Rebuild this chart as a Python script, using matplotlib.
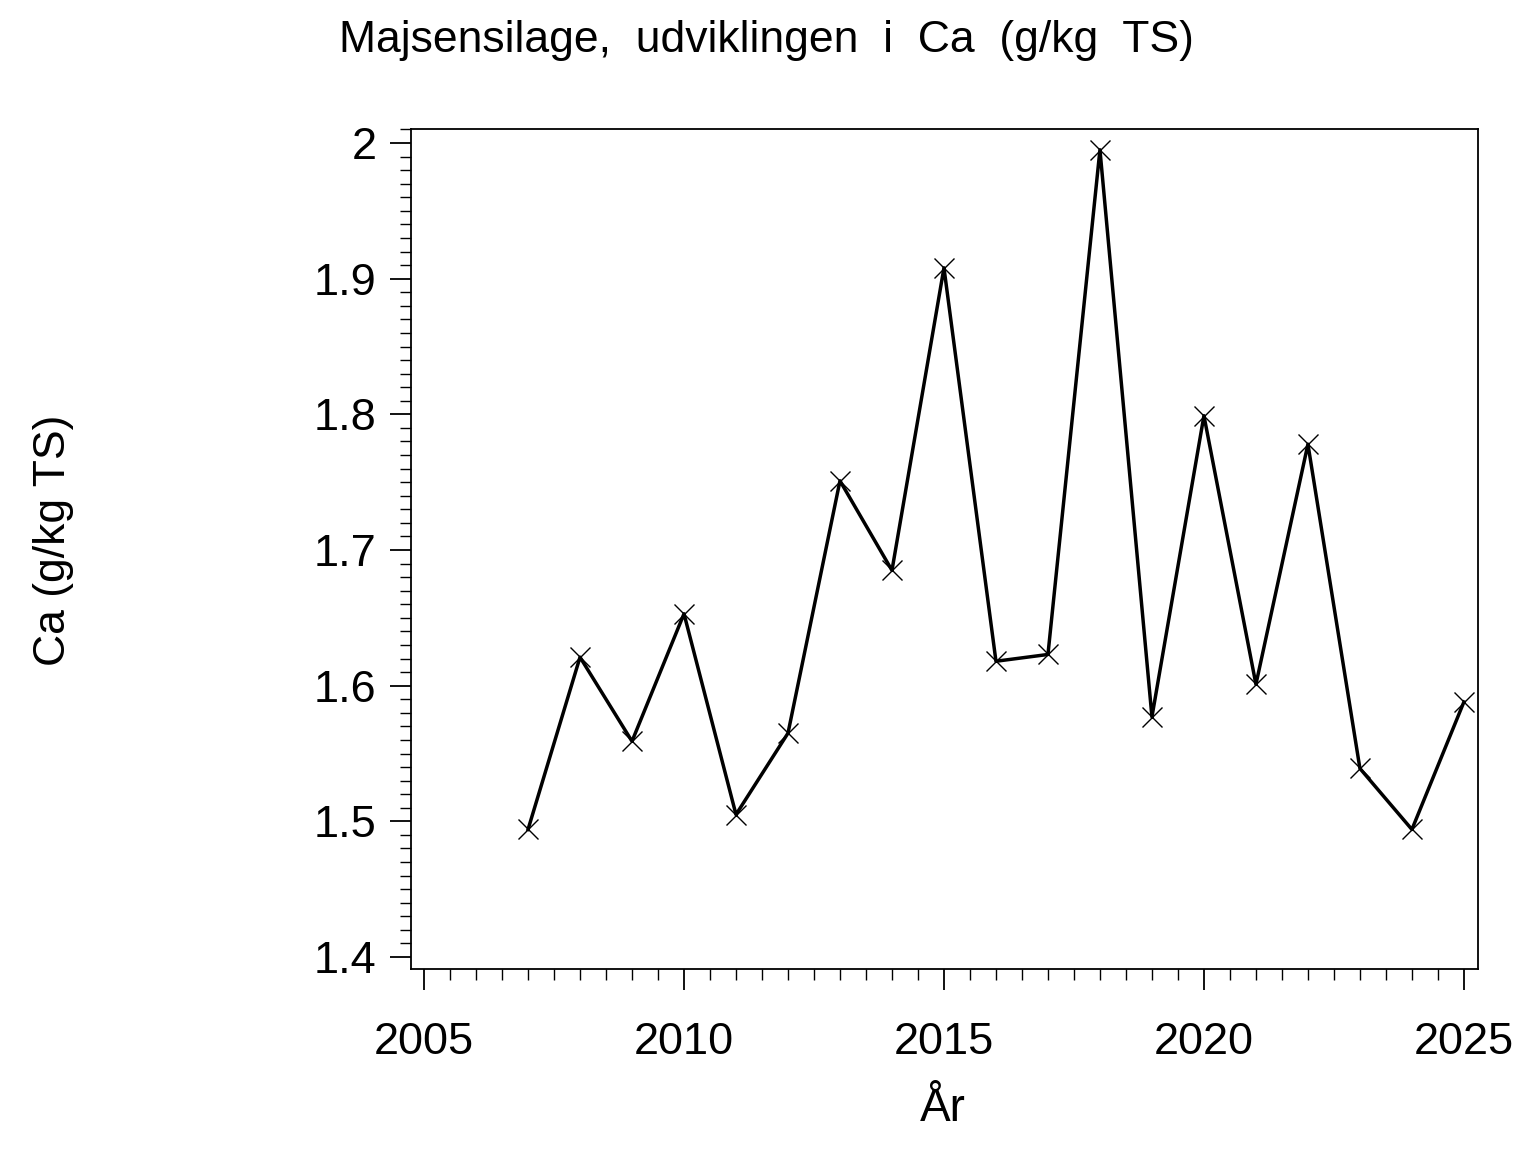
import numpy as np
import matplotlib.pyplot as plt
from matplotlib.ticker import MultipleLocator

plt.rcParams['font.family'] = ['Liberation Sans', 'DejaVu Sans']

years = [2007, 2008, 2009, 2010, 2011, 2012, 2013, 2014, 2015, 2016,
         2017, 2018, 2019, 2020, 2021, 2022, 2023, 2024, 2025]
ca = [1.494, 1.621, 1.559, 1.653, 1.505, 1.565, 1.751, 1.685, 1.908, 1.618,
      1.623, 1.995, 1.577, 1.799, 1.601, 1.778, 1.539, 1.494, 1.588]

fig = plt.figure(figsize=(15.36, 11.52), dpi=100)
ax = fig.add_axes([0.2676, 0.1589, 0.6946, 0.7291])

ax.plot(years, ca, color='black', linewidth=2.5, marker='x',
        markersize=14, markeredgewidth=1.0)

ax.set_xlim(2004.75, 2025.27)
ax.set_ylim(1.3912, 2.0103)

ax.xaxis.set_major_locator(MultipleLocator(5))
ax.xaxis.set_minor_locator(MultipleLocator(0.5))
ax.yaxis.set_minor_locator(MultipleLocator(0.01))
ax.set_yticks(np.arange(1.4, 2.01, 0.1))
ax.set_yticklabels(['1.4', '1.5', '1.6', '1.7', '1.8', '1.9', '2'])

for s in ax.spines.values():
    s.set_linewidth(1.3)

ax.tick_params(axis='both', which='major', length=15, width=1.3,
               labelsize=32.5, direction='out')
ax.tick_params(axis='both', which='minor', length=8, width=1.0,
               direction='out')
ax.tick_params(axis='x', which='major', pad=23)
ax.tick_params(axis='y', which='major', pad=10)

fig.text(0.499, 0.965, 'Majsensilage,  udviklingen  i  Ca  (g/kg  TS)',
         ha='center', va='center', fontsize=32)
fig.text(0.035, 0.531, 'Ca (g/kg TS)', rotation=90,
         ha='center', va='center', fontsize=32)
fig.text(0.614, 0.037, 'År', ha='center', va='center', fontsize=33)

fig.savefig('out.png', dpi=100)
